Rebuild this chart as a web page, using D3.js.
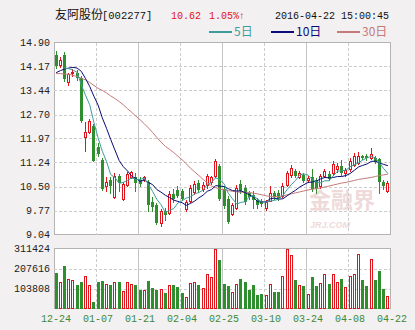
<!DOCTYPE html>
<html>
<head>
<meta charset="utf-8">
<script src="https://cdn.jsdelivr.net/npm/d3@7"></script>
<style>
body{margin:0;background:#f2f0f0;}
svg{display:block;}
text{font-family:"Liberation Mono","DejaVu Sans Mono",monospace;font-size:10px;}
</style>
</head>
<body>
<script>
// trading days shown (MM-DD)
const dates = ["12-24","12-25","12-28","12-29","12-30","12-31","01-04","01-05","01-06","01-07",
"01-08","01-11","01-12","01-13","01-14","01-15","01-18","01-19","01-20","01-21",
"01-22","01-25","01-26","01-27","01-28","01-29","02-01","02-02","02-03","02-04",
"02-05","02-15","02-16","02-17","02-18","02-19","02-22","02-23","02-24","02-25",
"02-26","02-29","03-01","03-02","03-03","03-04","03-07","03-08","03-09","03-10",
"03-11","03-14","03-15","03-16","03-17","03-18","03-21","03-22","03-23","03-24",
"03-25","03-28","03-29","03-30","03-31","04-01","04-05","04-06","04-07","04-08",
"04-11","04-12","04-13","04-14","04-15","04-18","04-19","04-20","04-21","04-22"];

const openP = [14.53,14.22,14.53,13.70,13.97,13.98,13.83,12.01,12.17,12.36,
11.70,11.30,10.51,10.69,10.17,10.84,10.11,10.54,10.79,10.78,
10.69,10.73,10.63,10.03,9.93,9.38,9.77,9.71,10.27,10.41,
10.38,9.83,10.05,10.34,10.61,10.42,10.54,10.63,10.83,11.14,
10.42,10.12,9.66,9.86,10.58,10.47,10.32,10.26,10.08,10.05,
9.86,10.07,10.32,10.32,10.20,10.54,10.87,10.98,10.78,10.87,
10.69,10.78,10.69,10.53,10.83,10.88,10.93,11.03,11.14,10.93,
11.03,11.16,11.22,11.44,11.45,11.39,11.39,11.34,10.63,10.38];

const closeP = [14.17,14.37,13.79,13.94,14.01,13.83,12.49,12.17,12.51,11.29,
11.49,10.43,10.63,10.53,10.83,10.60,10.58,10.89,10.94,10.60,
10.57,10.78,9.93,9.87,9.38,9.77,9.62,10.27,10.12,10.23,
10.12,10.02,10.47,10.58,10.40,10.54,10.84,10.78,11.29,10.12,
9.92,9.41,9.93,10.47,10.38,10.02,10.17,10.08,9.93,9.97,
10.02,10.32,10.17,10.12,10.53,10.92,11.07,10.83,10.93,10.68,
10.76,10.42,10.42,10.83,10.98,10.73,11.19,11.14,10.93,11.02,
11.29,11.45,11.44,11.37,11.36,11.49,11.26,10.63,10.51,10.62];

const highP = [14.63,14.45,14.60,13.98,14.09,14.05,13.89,12.46,12.58,12.41,
11.82,11.39,10.78,10.78,10.93,10.90,10.63,10.96,10.99,10.93,
10.81,10.84,10.69,10.17,9.99,9.83,9.86,10.38,10.44,10.51,
10.44,10.08,10.54,10.66,10.69,10.63,10.90,10.84,11.34,11.18,
10.51,10.20,9.99,10.54,10.69,10.54,10.38,10.38,10.14,10.11,
10.08,10.51,10.38,10.41,10.60,10.99,11.15,11.05,10.99,10.93,
10.84,11.05,10.75,10.90,11.05,10.99,11.27,11.21,11.30,11.08,
11.36,11.54,11.57,11.48,11.51,11.69,11.45,11.39,10.69,10.66];

const lowP = [14.11,14.15,13.74,13.59,13.89,13.77,12.46,11.60,12.15,11.27,
11.45,10.41,10.38,10.32,10.14,10.38,10.08,10.51,10.75,10.38,
10.51,10.66,9.77,9.77,9.35,9.31,9.47,9.68,10.02,10.17,
10.08,9.77,10.02,10.29,10.35,10.38,10.47,10.57,10.81,10.08,
9.86,9.38,9.62,9.83,10.32,9.96,10.11,9.86,9.86,9.90,
9.80,10.05,10.11,10.08,10.17,10.51,10.81,10.78,10.75,10.63,
10.63,10.38,10.32,10.47,10.78,10.69,10.87,10.96,10.87,10.84,
10.99,11.12,11.18,11.33,11.30,11.33,11.21,10.32,10.44,10.35];

const volume = [185800,135900,220200,153100,148000,122200,137600,166900,122200,34400,
135900,142800,125600,122200,135900,135900,91200,135900,125600,122200,
96400,96400,142800,108400,96400,99800,82600,122200,122200,111800,
79100,60200,132500,135900,122200,104900,177200,161700,311400,251200,
125600,117000,84300,125600,153100,135900,96400,122200,70500,74000,
68800,125600,84300,84300,168600,306300,277000,148000,122200,117000,
74000,163500,117000,132500,177200,127300,177200,137600,153100,111800,
168600,177200,280500,148000,117000,254600,148000,194400,101500,65400];

const ma5 = [null,null,14.12,14.10,14.06,13.99,13.61,13.29,13.00,12.46,
11.99,11.58,11.27,10.87,10.78,10.60,10.63,10.69,10.77,10.72,
10.72,10.76,10.56,10.35,10.11,9.95,9.71,9.78,9.83,10.00,
10.07,10.15,10.19,10.28,10.32,10.40,10.57,10.63,10.77,10.71,
10.59,10.30,10.13,9.97,10.02,10.04,10.19,10.22,10.12,10.03,
10.03,10.06,10.08,10.12,10.23,10.41,10.56,10.69,10.86,10.89,
10.85,10.72,10.64,10.62,10.68,10.68,10.83,10.97,10.99,11.00,
11.11,11.17,11.23,11.31,11.38,11.42,11.38,11.22,11.05,10.90];

const ma10 = [13.98,14.04,14.09,14.12,14.14,14.12,14.02,13.80,13.56,13.26,
12.99,12.60,12.28,11.94,11.62,11.30,11.11,10.98,10.82,10.75,
10.66,10.70,10.63,10.56,10.41,10.33,10.24,10.17,10.09,10.05,
10.01,9.93,9.99,10.06,10.16,10.24,10.36,10.41,10.53,10.52,
10.50,10.44,10.38,10.37,10.37,10.32,10.25,10.18,10.04,10.03,
10.04,10.13,10.15,10.12,10.13,10.22,10.31,10.39,10.49,10.56,
10.63,10.64,10.67,10.74,10.78,10.77,10.78,10.81,10.81,10.84,
10.90,11.00,11.10,11.15,11.19,11.27,11.28,11.22,11.18,11.14];

const ma30 = [13.95,13.95,13.94,13.93,13.90,13.86,13.81,13.76,13.68,13.59,
13.50,13.44,13.36,13.27,13.19,13.10,13.00,12.88,12.77,12.65,
12.54,12.42,12.29,12.15,12.00,11.86,11.73,11.64,11.54,11.43,
11.32,11.20,11.06,10.95,10.84,10.72,10.62,10.52,10.47,10.43,
10.40,10.38,10.36,10.34,10.33,10.33,10.32,10.30,10.28,10.25,
10.22,10.20,10.19,10.20,10.22,10.25,10.28,10.31,10.34,10.37,
10.40,10.42,10.44,10.46,10.49,10.52,10.55,10.58,10.61,10.63,
10.66,10.69,10.72,10.74,10.76,10.78,10.81,10.84,10.86,10.88];

const priceTicks = [14.90,14.17,13.44,12.70,11.97,11.24,10.50,9.77,9.04];
const volTicks = [311424,207616,103808];
const labelDates = ["12-24","01-07","01-21","02-04","02-25","03-10","03-24","04-08","04-22"];

const width = 415, height = 330;
const left = 54, right = 390;
const red = "#e0141a", green = "#2f8f2f";

const svg = d3.select("body").append("svg")
	.attr("width", width)
	.attr("height", height);

const x = d3.scaleBand().domain(dates).range([left, right]).paddingInner(0.3).paddingOuter(0.15);
const y = d3.scaleLinear().domain([9.04, 14.90]).range([234.5, 42.5]);
const yv = d3.scaleLinear().domain([0, 311424]).range([308.5, 248.5]);

const gap = (x.step() - x.bandwidth()) / 2;
const px = v => Math.round(v) + 0.5;
function tickX(d, i){
	const edge = x(d) - gap;
	return i === 0 ? edge : edge + x.step();
}
function bodyX(d){ return Math.round(x(d) + x.bandwidth() / 2 - 1.5); }

// panels
function panel(top, bottom){
	svg.append("rect")
		.attr("x", px(left)).attr("y", top)
		.attr("width", Math.round(right - left)).attr("height", bottom - top)
		.attr("fill", "#fff").attr("stroke", "#b4b4b4");
}
panel(y(14.90), y(9.04));
panel(yv(311424), yv(0));

// watermark
const wm = svg.append("g").attr("fill", "#efdada");
wm.append("text").attr("x", 309).attr("y", 208)
	.style("font-family", "'Noto Sans CJK SC'").style("font-size", "22px").style("font-weight", "bold")
	.text("金融界");
wm.append("text").attr("x", 310).attr("y", 228)
	.style("font-family", "'Liberation Sans'").style("font-size", "9px").style("font-weight", "bold").style("font-style", "italic")
	.text("JRJ.COM");

// grids
const grid = svg.append("g").attr("shape-rendering", "crispEdges");
grid.selectAll(".hp").data(priceTicks.slice(1, -1)).enter().append("line")
	.attr("x1", left).attr("x2", right)
	.attr("y1", d => px(y(d))).attr("y2", d => px(y(d)))
	.attr("stroke", "#cccccc").attr("stroke-dasharray", "3,2");
grid.selectAll(".hv").data(volTicks.slice(1)).enter().append("line")
	.attr("x1", left).attr("x2", right)
	.attr("y1", d => px(yv(d))).attr("y2", d => px(yv(d)))
	.attr("stroke", "#cccccc").attr("stroke-dasharray", "3,2");

const vGrid = labelDates.slice(1, -1);
[[y(14.90), y(9.04)], [yv(311424), yv(0)]].forEach(([t, b]) => {
	grid.selectAll(null).data(vGrid).enter().append("line")
		.attr("x1", d => px(tickX(d, 1))).attr("x2", d => px(tickX(d, 1)))
		.attr("y1", t).attr("y2", b)
		.attr("stroke", (d, i) => i % 2 ? "#c4c4c4" : "#cccccc")
		.attr("stroke-dasharray", (d, i) => i % 2 ? null : "3,2");
});

// axis labels
svg.append("g").selectAll("text").data(priceTicks).enter().append("text")
	.attr("x", 50).attr("y", d => y(d)).attr("dy", "0.35em")
	.attr("text-anchor", "end").attr("fill", "#222")
	.text(d => d.toFixed(2));
svg.append("g").selectAll("text").data(volTicks).enter().append("text")
	.attr("x", 50).attr("y", d => yv(d)).attr("dy", "0.35em")
	.attr("text-anchor", "end").attr("fill", "#222")
	.text(d => d);
svg.append("g").selectAll("text").data(labelDates).enter().append("text")
	.attr("x", (d, i) => tickX(d, i) + 2).attr("y", 318).attr("dy", "0.35em")
	.attr("text-anchor", "middle").attr("fill", "#3b8a3b")
	.text(d => d);

// candles
const candles = dates.map((d, i) => ({d, o: openP[i], c: closeP[i], h: highP[i], l: lowP[i], v: volume[i]}));
const cg = svg.append("g").attr("shape-rendering", "crispEdges");
const cs = cg.selectAll("g").data(candles).enter().append("g");
cs.append("line")
	.attr("x1", d => bodyX(d.d) + 1.5).attr("x2", d => bodyX(d.d) + 1.5)
	.attr("y1", d => Math.round(y(d.h))).attr("y2", d => Math.round(y(d.l)) + 1)
	.attr("stroke", d => d.c >= d.o ? red : green);
cs.filter(d => d.c < d.o).append("rect")
	.attr("x", d => bodyX(d.d)).attr("width", 3)
	.attr("y", d => Math.round(y(d.o)))
	.attr("height", d => Math.max(1, Math.round(y(d.c)) - Math.round(y(d.o))))
	.attr("fill", green);
cs.filter(d => d.c >= d.o).append("rect")
	.attr("x", d => bodyX(d.d) + 0.5).attr("width", 2)
	.attr("y", d => Math.round(y(d.c)) + 0.5)
	.attr("height", d => Math.max(0, Math.round(y(d.o)) - Math.round(y(d.c))))
	.attr("fill", "#fff").attr("stroke", red);

// volume bars
const vg = svg.append("g").attr("shape-rendering", "crispEdges");
vg.selectAll("rect.g").data(candles.filter(d => d.c < d.o)).enter().append("rect")
	.attr("x", d => bodyX(d.d)).attr("width", 3)
	.attr("y", d => Math.round(yv(d.v))).attr("height", d => Math.round(yv(0)) - Math.round(yv(d.v)))
	.attr("fill", green);
vg.selectAll("rect.r").data(candles.filter(d => d.c >= d.o)).enter().append("rect")
	.attr("x", d => bodyX(d.d) + 0.5).attr("width", 2)
	.attr("y", d => Math.round(yv(d.v)) + 0.5).attr("height", d => Math.round(yv(0)) - Math.round(yv(d.v)) - 1)
	.attr("fill", "#fff").attr("stroke", red);

// moving averages
const mid = d => x(d) + x.bandwidth() / 2;
[[ma30, "#c47a7a"], [ma10, "#0b0b78"], [ma5, "#3f9c9c"]].forEach(([arr, col]) => {
	const line = d3.line()
		.defined(d => d[1] != null)
		.x(d => mid(d[0])).y(d => y(d[1]));
	svg.append("path")
		.datum(dates.map((d, i) => [d, arr[i]]))
		.attr("d", line).attr("fill", "none")
		.attr("stroke", col).attr("stroke-width", 1);
});

// header
const head = svg.append("g");
head.append("text").attr("x", 55).attr("y", 19)
	.style("font-family", "'Noto Sans CJK SC'").style("font-size", "12px").attr("fill", "#111")
	.text("友阿股份");
head.append("text").attr("x", 102).attr("y", 19).attr("fill", "#111")
	.style("font-size", "10.5px")
	.text("[002277]");
head.append("text").attr("x", 171).attr("y", 19).attr("fill", red).text("10.62");
head.append("text").attr("x", 209).attr("y", 19).attr("fill", red).text("1.05%↑");
head.append("text").attr("x", 275).attr("y", 19).attr("fill", "#111").text("2016-04-22 15:00:45");

const legend = [["5日", "#3f9c9c", 209], ["10日", "#0b0b78", 271], ["30日", "#c47a7a", 337]];
const lg = head.selectAll("g.lg").data(legend).enter().append("g");
lg.append("line").attr("x1", d => d[2]).attr("x2", d => d[2] + 23)
	.attr("y1", 32).attr("y2", 32).attr("stroke", d => d[1]).attr("stroke-width", 2);
lg.append("text").attr("x", d => d[2] + 25).attr("y", 36)
	.style("font-family", "'Noto Sans CJK SC'").style("font-size", "12px")
	.attr("fill", d => d[1]).text(d => d[0]);
</script>
</body>
</html>
